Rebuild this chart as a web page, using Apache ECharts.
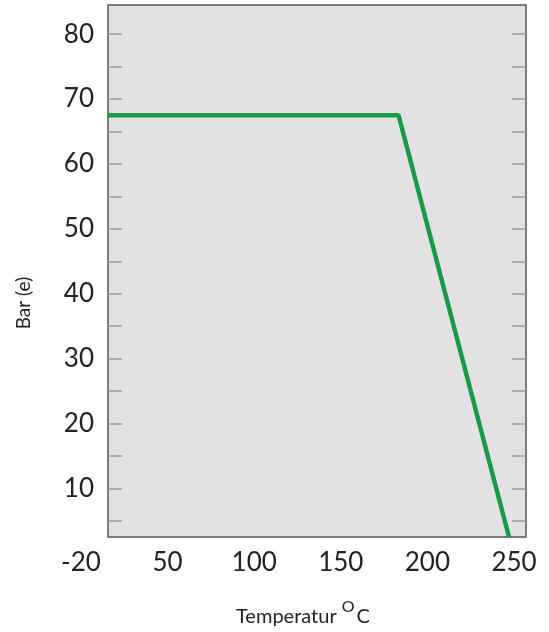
<!DOCTYPE html>
<html><head><meta charset="utf-8">
<script src="https://cdn.jsdelivr.net/npm/echarts@6/dist/echarts.min.js"></script>
<style>html,body{margin:0;padding:0;background:#fff}#c{width:549px;height:632px}</style>
</head><body><div id="c"></div>
<script>
// Data
const temps = [12, 183, 248];          // Temperatur °C
const pressure = [67.5, 67.5, 2.5];    // Bar (e)
const xTickLabels = ['-20', '50', '100', '150', '200', '250'];
const yTickValues = [10, 20, 30, 40, 50, 60, 70, 80];
const yMinorTickValues = [5, 10, 15, 20, 25, 30, 35, 40, 45, 50, 55, 60, 65, 70, 75, 80];

const FONT = 'Lato, "Noto Sans", sans-serif';
const chart = echarts.init(document.getElementById('c'), null, {renderer: 'canvas'});
const tickStyle = {show: true, inside: true, length: 14, customValues: yMinorTickValues, lineStyle: {color: '#9a9a9a', width: 1.5}};

chart.setOption({
  animation: false,
  backgroundColor: '#fff',
  title: {
    text: '{a|Temperatur }{s|O}{a|C}',
    left: 231, top: 594,
    textStyle: {
      fontWeight: 'normal',
      rich: {
        a: {fontFamily: FONT, fontSize: 20, fontWeight: 'normal', color: '#222', verticalAlign: 'bottom', lineHeight: 28},
        s: {fontFamily: FONT, fontSize: 16, fontWeight: 'normal', color: '#222', verticalAlign: 'top', lineHeight: 28, padding: [0, 2, 8, 0]}
      }
    }
  },
  graphic: [{
    type: 'text', x: 14, y: 303, rotation: Math.PI / 2,
    style: {text: 'Bar (e)', fontFamily: FONT, fontSize: 19, fill: '#222', align: 'center', verticalAlign: 'top'}
  }],
  grid: [
    {left: 108, right: 23, top: 5, bottom: 95, show: true, backgroundColor: '#e2e2e2', borderColor: '#555', borderWidth: 1.5},
    {left: 81, right: 35, top: 5, bottom: 95, show: false}
  ],
  xAxis: [
    {gridIndex: 0, type: 'value', min: 12, max: 258, axisLine: {show: false}, axisTick: {show: false}, axisLabel: {show: false}, splitLine: {show: false}},
    {gridIndex: 1, type: 'category', data: xTickLabels, boundaryGap: false, position: 'bottom',
     axisLine: {show: false}, axisTick: {show: false}, splitLine: {show: false},
     axisLabel: {fontFamily: FONT, fontSize: 26, color: '#222', margin: 13}}
  ],
  yAxis: [
    {gridIndex: 0, type: 'value', min: 2.5, max: 84.5, position: 'left',
     axisLine: {show: false}, splitLine: {show: false}, axisTick: tickStyle,
     axisLabel: {customValues: yTickValues, fontFamily: FONT, fontSize: 26, color: '#222', margin: 14}},
    {gridIndex: 0, type: 'value', min: 2.5, max: 84.5, position: 'right',
     axisLine: {show: false}, splitLine: {show: false}, axisTick: tickStyle, axisLabel: {show: false}},
    {gridIndex: 1, type: 'value', show: false}
  ],
  series: [{
    type: 'line', xAxisIndex: 0, yAxisIndex: 0,
    data: temps.map((t, i) => [t, pressure[i]]),
    symbol: 'none', clip: true,
    lineStyle: {color: '#1a9a48', width: 4.5}
  }]
});
</script></body></html>
